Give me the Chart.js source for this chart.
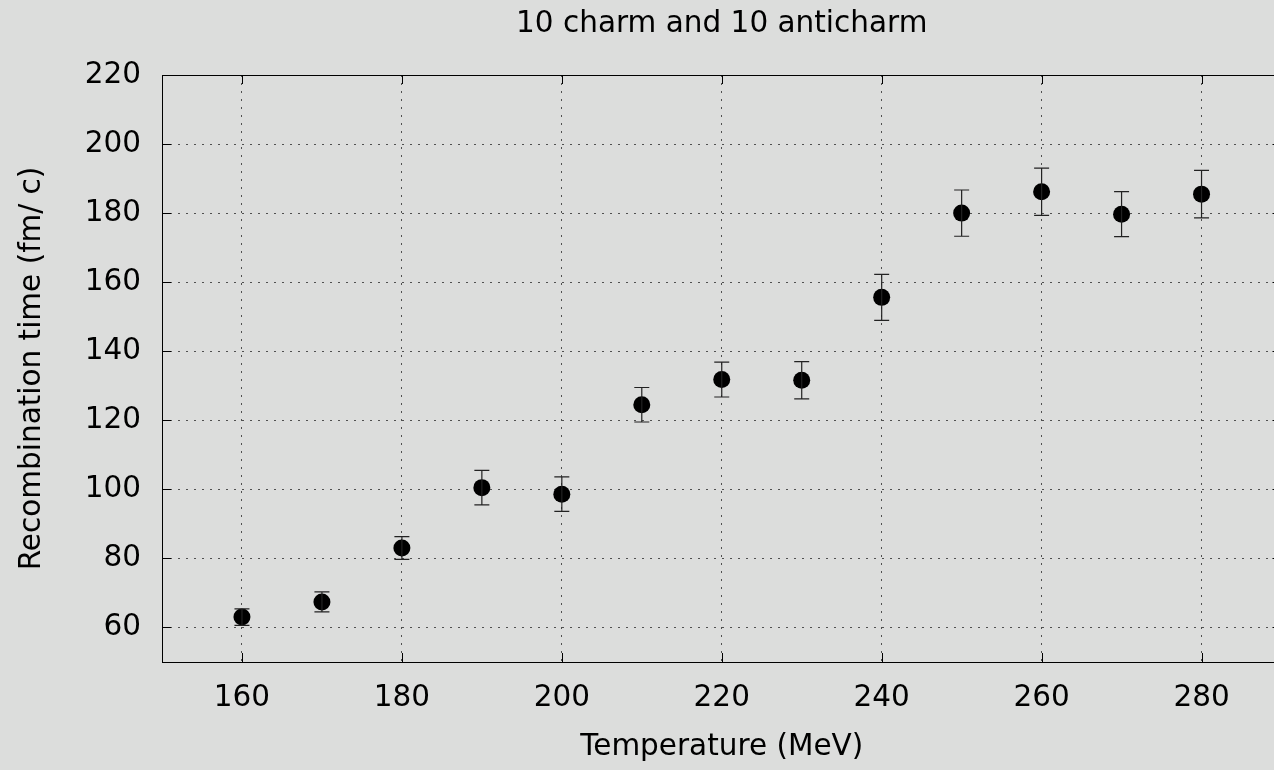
<!DOCTYPE html>
<html>
<head>
<meta charset="utf-8">
<script src="https://cdn.jsdelivr.net/npm/chart.js@4/dist/chart.umd.min.js"></script>
<style>
  html, body { margin: 0; padding: 0; background: #dcdddc; overflow: hidden; }
  #wrap { width: 1290px; height: 770px; }
</style>
</head>
<body>
<div id="wrap"><canvas id="recombChart" width="1290" height="770"></canvas></div>
<script>
// ---------- Data ----------
const temperatures = [160, 170, 180, 190, 200, 210, 220, 230, 240, 250, 260, 270, 280];
const recombTimes = [63.0, 67.4, 83.0, 100.5, 98.6, 124.5, 131.8, 131.6, 155.6, 180.0, 186.2, 179.7, 185.5];
const recombErrors = [2.4, 2.9, 3.3, 5.0, 5.0, 5.0, 5.05, 5.4, 6.65, 6.7, 6.85, 6.5, 6.85];

const xTicks = [160, 180, 200, 220, 240, 260, 280];
const yTicks = [60, 80, 100, 120, 140, 160, 180, 200, 220];

const chartTitle = '10 charm and 10 anticharm';
const FONT = 'DejaVu Sans';
const FONT_SIZE = 29.5;

// ---------- Plugins ----------
// error bars with small caps, drawn through the chart's scales
const errorBars = {
  id: 'errorBars',
  afterDatasetsDraw(chart) {
    const { ctx, scales: { x, y } } = chart;
    ctx.save();
    ctx.strokeStyle = '#222';
    ctx.lineWidth = 1.2;
    temperatures.forEach((t, i) => {
      const px = x.getPixelForValue(t);
      const top = y.getPixelForValue(recombTimes[i] + recombErrors[i]);
      const bot = y.getPixelForValue(recombTimes[i] - recombErrors[i]);
      ctx.beginPath();
      ctx.moveTo(px, top); ctx.lineTo(px, bot);
      ctx.moveTo(px - 7.5, top); ctx.lineTo(px + 7.5, top);
      ctx.moveTo(px - 7.5, bot); ctx.lineTo(px + 7.5, bot);
      ctx.stroke();
    });
    ctx.restore();
  }
};

// frame plus inward tick marks (mirrored on the top edge), title over the plot area
const frameTicks = {
  id: 'frameTicks',
  beforeDatasetsDraw(chart) {
    const { ctx, chartArea: a, scales: { x, y } } = chart;
    ctx.save();
    ctx.strokeStyle = '#000';
    ctx.lineWidth = 1;
    const len = 9;
    ctx.beginPath();
    xTicks.forEach(v => {
      const px = Math.round(x.getPixelForValue(v)) + 0.5;
      ctx.moveTo(px, a.bottom); ctx.lineTo(px, a.bottom - len);
      ctx.moveTo(px, a.top); ctx.lineTo(px, a.top + len);
    });
    yTicks.forEach(v => {
      const py = Math.round(y.getPixelForValue(v)) + 0.5;
      ctx.moveTo(a.left, py); ctx.lineTo(a.left + len, py);
      ctx.moveTo(a.right, py); ctx.lineTo(a.right - len, py);
    });
    ctx.stroke();
    ctx.strokeRect(Math.round(a.left) + 0.5, Math.round(a.top) + 0.5,
                   Math.round(a.right - a.left), Math.round(a.bottom - a.top));

    ctx.fillStyle = '#000';
    ctx.font = `${FONT_SIZE}px "${FONT}"`;
    ctx.textAlign = 'center';
    ctx.textBaseline = 'middle';
    ctx.fillText(chartTitle, (a.left + a.right) / 2, 24);
    ctx.restore();
  }
};

const dottedGrid = {
  color: '#505050',
  lineWidth: 1,
  drawTicks: false,
};

// ---------- Chart ----------
const ctx = document.getElementById('recombChart').getContext('2d');
new Chart(ctx, {
  type: 'scatter',
  data: {
    datasets: [{
      label: 'Recombination time',
      data: temperatures.map((t, i) => ({ x: t, y: recombTimes[i] })),
      backgroundColor: '#000',
      borderColor: '#000',
      pointRadius: 8.5,
      pointHoverRadius: 8.5,
      borderWidth: 0
    }]
  },
  plugins: [errorBars, frameTicks],
  options: {
    responsive: false,
    animation: false,
    layout: { padding: { left: 0, right: 6, top: 75, bottom: 0 } },
    scales: {
      x: {
        type: 'linear',
        min: 150,
        max: 290,
        afterBuildTicks: (s) => { s.ticks = xTicks.map(v => ({ value: v })); },
        afterFit: (s) => { s.height = 108; },
        ticks: {
          color: '#000',
          font: { family: FONT, size: FONT_SIZE },
          padding: 19,
          maxRotation: 0
        },
        grid: { ...dottedGrid },
        border: { display: false, dash: [2, 6] },
        title: {
          display: true,
          text: 'Temperature (MeV)',
          color: '#000',
          font: { family: FONT, size: FONT_SIZE },
          padding: { top: 0, bottom: 5.3 }
        }
      },
      y: {
        type: 'linear',
        min: 50,
        max: 220,
        afterBuildTicks: (s) => { s.ticks = yTicks.map(v => ({ value: v })); },
        afterFit: (s) => { s.width = 162; },
        ticks: {
          color: '#000',
          font: { family: FONT, size: FONT_SIZE },
          padding: 21
        },
        grid: { ...dottedGrid },
        border: { display: false, dash: [2, 6] },
        title: {
          display: true,
          text: 'Recombination time (fm/ c)',
          color: '#000',
          font: { family: FONT, size: FONT_SIZE },
          padding: { top: 14.3, bottom: 0 }
        }
      }
    },
    plugins: {
      legend: { display: false },
      tooltip: { enabled: false },
      title: { display: false }
    }
  }
});
</script>
</body>
</html>
